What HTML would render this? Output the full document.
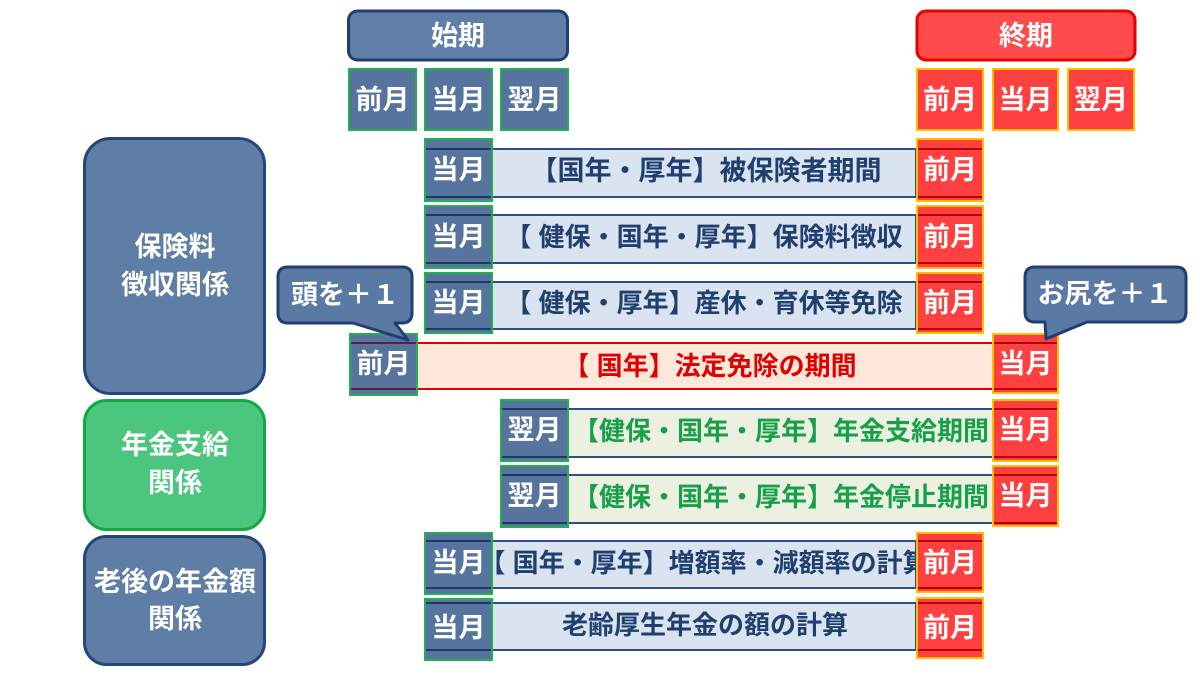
<!DOCTYPE html>
<html>
<head>
<meta charset="utf-8">
<style>
html,body{margin:0;padding:0;background:#fff;}
svg{display:block;}
text{font-family:"Liberation Sans","Noto Sans CJK JP",sans-serif;font-weight:bold;}
</style>
</head>
<body>
<svg width="1200" height="675" viewBox="0 0 1200 675" xmlns="http://www.w3.org/2000/svg">
<rect width="1200" height="675" fill="#fff"/>

<!-- Header boxes -->
<rect x="348.5" y="11" width="219" height="49" rx="9" fill="#5f7ea8" stroke="#1f3f73" stroke-width="3"/>
<text x="458" y="36" font-size="27" fill="#fff" text-anchor="middle" dominant-baseline="central">始期</text>
<rect x="917" y="11" width="218" height="49" rx="9" fill="#ff4b4b" stroke="#e60000" stroke-width="3"/>
<text x="1026" y="36" font-size="27" fill="#fff" text-anchor="middle" dominant-baseline="central">終期</text>

<!-- top small boxes -->
<g font-size="27" fill="#fff" text-anchor="middle">
<rect x="349" y="69" width="67" height="61" fill="#56749e" stroke="#1fb050" stroke-width="2"/>
<text x="382.5" y="100" dominant-baseline="central">前月</text>
<rect x="425" y="69" width="67" height="61" fill="#56749e" stroke="#1fb050" stroke-width="2"/>
<text x="458.5" y="100" dominant-baseline="central">当月</text>
<rect x="501" y="69" width="67" height="61" fill="#56749e" stroke="#1fb050" stroke-width="2"/>
<text x="534.5" y="100" dominant-baseline="central">翌月</text>
<rect x="917" y="69" width="66" height="61" fill="#ff4040" stroke="#ffc000" stroke-width="2"/>
<text x="950" y="100" dominant-baseline="central">前月</text>
<rect x="993" y="69" width="65" height="61" fill="#ff4040" stroke="#ffc000" stroke-width="2"/>
<text x="1025.5" y="100" dominant-baseline="central">当月</text>
<rect x="1068" y="69" width="66" height="61" fill="#ff4040" stroke="#ffc000" stroke-width="2"/>
<text x="1101" y="100" dominant-baseline="central">翌月</text>
</g>

<!-- Left category boxes -->
<rect x="84.5" y="138.5" width="180" height="255" rx="26" fill="#5f7ea6" stroke="#23477b" stroke-width="3"/>
<text x="175" y="247" font-size="27" fill="#fff" text-anchor="middle" dominant-baseline="central">保険料</text>
<text x="175" y="285" font-size="27" fill="#fff" text-anchor="middle" dominant-baseline="central">徴収関係</text>

<rect x="84.5" y="400.5" width="180" height="129" rx="22" fill="#4cc67f" stroke="#13a847" stroke-width="3"/>
<text x="175" y="445" font-size="27" fill="#fff" text-anchor="middle" dominant-baseline="central">年金支給</text>
<text x="175" y="483" font-size="27" fill="#fff" text-anchor="middle" dominant-baseline="central">関係</text>

<rect x="84.5" y="536.5" width="180" height="128" rx="22" fill="#5f7ea6" stroke="#23477b" stroke-width="3"/>
<text x="175" y="582" font-size="27" fill="#fff" text-anchor="middle" dominant-baseline="central">老後の年金額</text>
<text x="175" y="619" font-size="27" fill="#fff" text-anchor="middle" dominant-baseline="central">関係</text>

<!-- Row 1 -->
<g>
<rect x="492" y="149" width="424" height="48" fill="#dae3f0" stroke="#2f4f80" stroke-width="2"/>
<text x="706" y="171" font-size="27" fill="#1f3f6f" text-anchor="middle" dominant-baseline="central">【国年・厚年】被保険者期間</text>
<rect x="425" y="139" width="67" height="62" fill="#56749e" stroke="#1fb050" stroke-width="2"/>
<line x1="426" y1="149" x2="491" y2="149" stroke="#1f3864" stroke-width="2"/>
<line x1="426" y1="197" x2="491" y2="197" stroke="#1f3864" stroke-width="2"/>
<text x="458.5" y="170" font-size="27" fill="#fff" text-anchor="middle" dominant-baseline="central">当月</text>
<rect x="917" y="139" width="66" height="62" fill="#ff4040" stroke="#ffc000" stroke-width="2"/>
<line x1="918" y1="149" x2="982" y2="149" stroke="#b00000" stroke-width="2"/>
<line x1="918" y1="197" x2="982" y2="197" stroke="#b00000" stroke-width="2"/>
<text x="950" y="170" font-size="27" fill="#fff" text-anchor="middle" dominant-baseline="central">前月</text>
</g>

<!-- Row 2 -->
<g>
<rect x="492" y="215" width="424" height="48" fill="#dae3f0" stroke="#2f4f80" stroke-width="2"/>
<text x="704" y="237" font-size="26" fill="#1f3f6f" text-anchor="middle" dominant-baseline="central">【 健保・国年・厚年】保険料徴収</text>
<rect x="425" y="206" width="67" height="62" fill="#56749e" stroke="#1fb050" stroke-width="2"/>
<line x1="426" y1="215" x2="491" y2="215" stroke="#1f3864" stroke-width="2"/>
<line x1="426" y1="263" x2="491" y2="263" stroke="#1f3864" stroke-width="2"/>
<text x="458.5" y="237" font-size="27" fill="#fff" text-anchor="middle" dominant-baseline="central">当月</text>
<rect x="917" y="206" width="66" height="62" fill="#ff4040" stroke="#ffc000" stroke-width="2"/>
<line x1="918" y1="215" x2="982" y2="215" stroke="#b00000" stroke-width="2"/>
<line x1="918" y1="263" x2="982" y2="263" stroke="#b00000" stroke-width="2"/>
<text x="950" y="237" font-size="27" fill="#fff" text-anchor="middle" dominant-baseline="central">前月</text>
</g>

<!-- Row 3 -->
<g>
<rect x="492" y="282" width="424" height="47" fill="#dae3f0" stroke="#2f4f80" stroke-width="2"/>
<text x="704" y="303" font-size="26" fill="#1f3f6f" text-anchor="middle" dominant-baseline="central">【 健保・厚年】産休・育休等免除</text>
<rect x="425" y="273" width="67" height="60" fill="#56749e" stroke="#1fb050" stroke-width="2"/>
<line x1="426" y1="282" x2="491" y2="282" stroke="#1f3864" stroke-width="2"/>
<line x1="426" y1="329" x2="491" y2="329" stroke="#1f3864" stroke-width="2"/>
<text x="458.5" y="303" font-size="27" fill="#fff" text-anchor="middle" dominant-baseline="central">当月</text>
<rect x="917" y="273" width="66" height="60" fill="#ff4040" stroke="#ffc000" stroke-width="2"/>
<line x1="918" y1="282" x2="982" y2="282" stroke="#b00000" stroke-width="2"/>
<line x1="918" y1="329" x2="982" y2="329" stroke="#b00000" stroke-width="2"/>
<text x="950" y="303" font-size="27" fill="#fff" text-anchor="middle" dominant-baseline="central">前月</text>
</g>

<!-- Row 4 (orange) -->
<g>
<rect x="417" y="343" width="576" height="46" fill="#fde8db" stroke="#e00000" stroke-width="2"/>
<text x="710" y="366" font-size="26" fill="#e00000" text-anchor="middle" dominant-baseline="central">【 国年】法定免除の期間</text>
<rect x="350" y="334" width="67" height="61" fill="#56749e" stroke="#1fb050" stroke-width="2"/>
<line x1="351" y1="343" x2="416" y2="343" stroke="#5a2040" stroke-width="2"/>
<line x1="351" y1="389" x2="416" y2="389" stroke="#5a2040" stroke-width="2"/>
<text x="383.5" y="364" font-size="27" fill="#fff" text-anchor="middle" dominant-baseline="central">前月</text>
<rect x="993" y="334" width="65" height="59" fill="#ff4040" stroke="#ffc000" stroke-width="2"/>
<line x1="994" y1="343" x2="1057" y2="343" stroke="#b00000" stroke-width="2"/>
<line x1="994" y1="389" x2="1057" y2="389" stroke="#b00000" stroke-width="2"/>
<text x="1025.5" y="364" font-size="27" fill="#fff" text-anchor="middle" dominant-baseline="central">当月</text>
</g>

<!-- Row 5 (green) -->
<g>
<rect x="568" y="409" width="425" height="48" fill="#ebf0e0" stroke="#2f4f80" stroke-width="2"/>
<text x="781" y="431" font-size="26" fill="#17a04a" text-anchor="middle" dominant-baseline="central">【健保・国年・厚年】年金支給期間</text>
<rect x="501" y="400" width="67" height="61" fill="#56749e" stroke="#1fb050" stroke-width="2"/>
<line x1="502" y1="409" x2="567" y2="409" stroke="#1f3864" stroke-width="2"/>
<line x1="502" y1="457" x2="567" y2="457" stroke="#1f3864" stroke-width="2"/>
<text x="534.5" y="430" font-size="27" fill="#fff" text-anchor="middle" dominant-baseline="central">翌月</text>
<rect x="993" y="400" width="65" height="61" fill="#ff4040" stroke="#ffc000" stroke-width="2"/>
<line x1="994" y1="409" x2="1057" y2="409" stroke="#b00000" stroke-width="2"/>
<line x1="994" y1="457" x2="1057" y2="457" stroke="#b00000" stroke-width="2"/>
<text x="1025.5" y="430" font-size="27" fill="#fff" text-anchor="middle" dominant-baseline="central">当月</text>
</g>

<!-- Row 6 (green) -->
<g>
<rect x="568" y="475" width="425" height="48" fill="#ebf0e0" stroke="#2f4f80" stroke-width="2"/>
<text x="781" y="497" font-size="26" fill="#17a04a" text-anchor="middle" dominant-baseline="central">【健保・国年・厚年】年金停止期間</text>
<rect x="501" y="466" width="67" height="61" fill="#56749e" stroke="#1fb050" stroke-width="2"/>
<line x1="502" y1="475" x2="567" y2="475" stroke="#1f3864" stroke-width="2"/>
<line x1="502" y1="523" x2="567" y2="523" stroke="#1f3864" stroke-width="2"/>
<text x="534.5" y="496" font-size="27" fill="#fff" text-anchor="middle" dominant-baseline="central">翌月</text>
<rect x="993" y="466" width="65" height="60" fill="#ff4040" stroke="#ffc000" stroke-width="2"/>
<line x1="994" y1="475" x2="1057" y2="475" stroke="#b00000" stroke-width="2"/>
<line x1="994" y1="523" x2="1057" y2="523" stroke="#b00000" stroke-width="2"/>
<text x="1025.5" y="496" font-size="27" fill="#fff" text-anchor="middle" dominant-baseline="central">当月</text>
</g>

<!-- Row 7 -->
<g>
<rect x="492" y="541" width="424" height="47" fill="#dae3f0" stroke="#2f4f80" stroke-width="2"/>
<text x="704" y="563" font-size="26" fill="#1f3f6f" text-anchor="middle" dominant-baseline="central">【 国年・厚年】増額率・減額率の計算</text>
<rect x="425" y="533" width="67" height="61" fill="#56749e" stroke="#1fb050" stroke-width="2"/>
<line x1="426" y1="541" x2="491" y2="541" stroke="#1f3864" stroke-width="2"/>
<line x1="426" y1="588" x2="491" y2="588" stroke="#1f3864" stroke-width="2"/>
<text x="458.5" y="563" font-size="27" fill="#fff" text-anchor="middle" dominant-baseline="central">当月</text>
<rect x="917" y="533" width="66" height="59" fill="#ff4040" stroke="#ffc000" stroke-width="2"/>
<line x1="918" y1="541" x2="982" y2="541" stroke="#b00000" stroke-width="2"/>
<line x1="918" y1="588" x2="982" y2="588" stroke="#b00000" stroke-width="2"/>
<text x="950" y="563" font-size="27" fill="#fff" text-anchor="middle" dominant-baseline="central">前月</text>
</g>

<!-- Row 8 -->
<g>
<rect x="492" y="603" width="424" height="47" fill="#dae3f0" stroke="#2f4f80" stroke-width="2"/>
<text x="705" y="625" font-size="26" fill="#1f3f6f" text-anchor="middle" dominant-baseline="central">老齢厚生年金の額の計算</text>
<rect x="425" y="599" width="67" height="61" fill="#56749e" stroke="#1fb050" stroke-width="2"/>
<line x1="426" y1="603" x2="491" y2="603" stroke="#1f3864" stroke-width="2"/>
<line x1="426" y1="650" x2="491" y2="650" stroke="#1f3864" stroke-width="2"/>
<text x="458.5" y="628" font-size="27" fill="#fff" text-anchor="middle" dominant-baseline="central">当月</text>
<rect x="917" y="598" width="66" height="60" fill="#ff4040" stroke="#ffc000" stroke-width="2"/>
<line x1="918" y1="603" x2="982" y2="603" stroke="#b00000" stroke-width="2"/>
<line x1="918" y1="650" x2="982" y2="650" stroke="#b00000" stroke-width="2"/>
<text x="950" y="628" font-size="27" fill="#fff" text-anchor="middle" dominant-baseline="central">前月</text>
</g>

<!-- Speech bubbles -->
<path d="M288,267 H402 Q412,267 412,277 V313 Q412,323 402,323 H395 L408,340 L353,323 H288 Q278,323 278,313 V277 Q278,267 288,267 Z" fill="#5a79a3" stroke="#203f70" stroke-width="3" stroke-linejoin="round"/>
<text x="345" y="295" font-size="27" fill="#fff" text-anchor="middle" dominant-baseline="central">頭を＋１</text>

<path d="M1035,267 H1176 Q1186,267 1186,277 V312 Q1186,322 1176,322 H1087 L1046,339 L1045,322 H1035 Q1025,322 1025,312 V277 Q1025,267 1035,267 Z" fill="#5a79a3" stroke="#203f70" stroke-width="3" stroke-linejoin="round"/>
<text x="1105" y="294" font-size="27" fill="#fff" text-anchor="middle" dominant-baseline="central">お尻を＋１</text>
</svg>
</body>
</html>
